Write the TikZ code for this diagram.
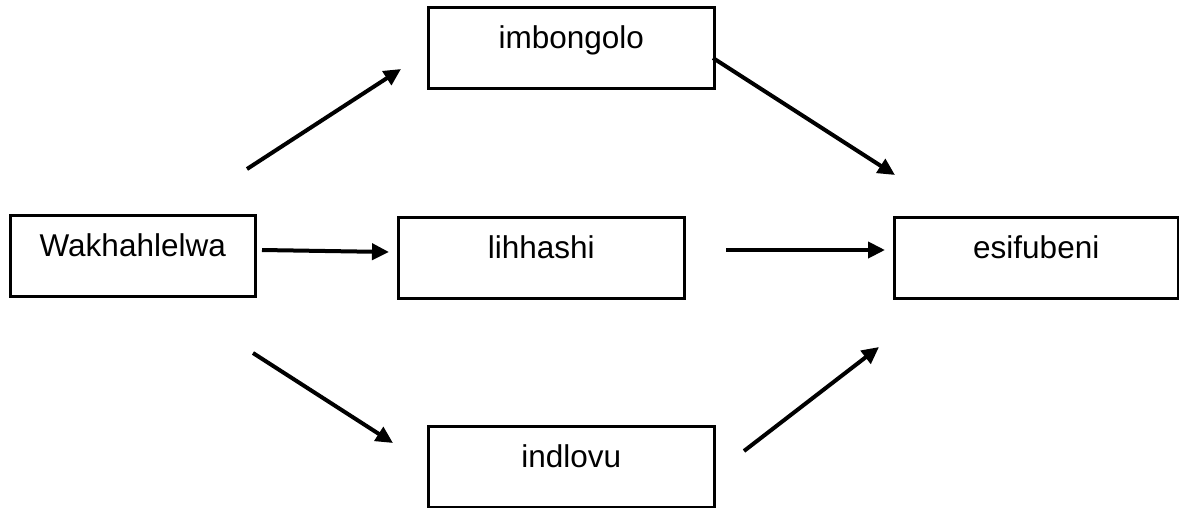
\documentclass[tikz,border=0pt]{standalone}
\usepackage{fontspec}
\setmainfont{Liberation Sans}
\usetikzlibrary{arrows.meta}
\tikzset{
  box/.style={draw=black, line width=2.5pt, rectangle, inner sep=0pt,
    text height=41pt, text depth=40pt, anchor=north west,
    font=\fontsize{31.5}{38}\selectfont},
  arr/.style={draw=black, line width=4pt, -{Triangle[length=17pt,width=16pt]}}
}
\begin{document}
\begin{tikzpicture}[x=1pt,y=-1pt]
\useasboundingbox (0,0) rectangle (1179,507);
% boxes
\node[box, minimum width=245pt, minimum height=81pt] (wak) at (9,214) {Wakhahlelwa};
\node[box, minimum width=286pt, minimum height=81pt] (imb) at (427,6) {imbongolo};
\node[box, minimum width=286pt, minimum height=80pt] (lih) at (397,216) {lihhashi};
\node[box, minimum width=284pt, minimum height=81pt] (esi) at (893,216) {esifubeni};
\node[box, minimum width=286pt, minimum height=80pt] (ind) at (427,425) {indlovu};
% arrow end points
\coordinate (a1s) at (247,169); \coordinate (a1e) at (401,69);
\coordinate (a2s) at (262,250); \coordinate (a2e) at (389,252);
\coordinate (a3s) at (253,353); \coordinate (a3e) at (393,443);
\coordinate (a4s) at (713,58);  \coordinate (a4e) at (895,175);
\coordinate (a5s) at (726,250); \coordinate (a5e) at (885,250);
\coordinate (a6s) at (744,451); \coordinate (a6e) at (879,347);
\draw[arr] (a1s) -- (a1e);
\draw[arr] (a2s) -- (a2e);
\draw[arr] (a3s) -- (a3e);
\draw[arr] (a4s) -- (a4e);
\draw[arr] (a5s) -- (a5e);
\draw[arr] (a6s) -- (a6e);
\end{tikzpicture}
\end{document}
